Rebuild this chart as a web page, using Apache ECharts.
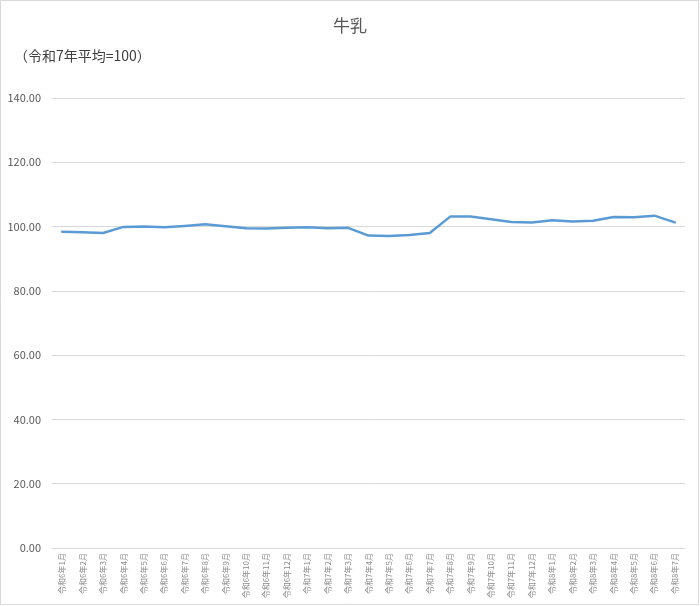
<!DOCTYPE html>
<html>
<head>
<meta charset="utf-8">
<script src="https://cdn.jsdelivr.net/npm/echarts@6/dist/echarts.min.js"></script>
<style>
html,body{margin:0;padding:0;background:#fff;}
#chart{width:700px;height:606px;}
</style>
</head>
<body>
<div id="chart"></div>
<script>
const categories = [
  '令和6年1月','令和6年2月','令和6年3月','令和6年4月','令和6年5月','令和6年6月',
  '令和6年7月','令和6年8月','令和6年9月','令和6年10月','令和6年11月','令和6年12月',
  '令和7年1月','令和7年2月','令和7年3月','令和7年4月','令和7年5月','令和7年6月',
  '令和7年7月','令和7年8月','令和7年9月','令和7年10月','令和7年11月','令和7年12月',
  '令和8年1月','令和8年2月','令和8年3月','令和8年4月','令和8年5月','令和8年6月','令和8年7月'
];
const milkIndex = [
  98.4, 98.2, 98.0, 99.9, 100.0, 99.8,
  100.2, 100.7, 100.1, 99.5, 99.4, 99.6,
  99.8, 99.5, 99.6, 97.2, 97.1, 97.4,
  98.0, 103.1, 103.1, 102.3, 101.4, 101.3,
  102.0, 101.6, 101.8, 103.0, 102.9, 103.4, 101.3
];
const titleText = '牛乳';
const noteText = '（令和7年平均=100）';

const FONT = '"Noto Sans CJK JP", "Noto Sans", sans-serif';
const chart = echarts.init(document.getElementById('chart'), null, {renderer: 'canvas'});
chart.setOption({
  animation: false,
  backgroundColor: '#ffffff',
  textStyle: {fontFamily: FONT},
  title: {
    text: titleText,
    left: 'center',
    top: 12,
    textStyle: {fontFamily: FONT, fontSize: 17, fontWeight: 'normal', color: '#595959'}
  },
  graphic: [
    {
      type: 'rect',
      shape: {x: 0.5, y: 0.5, width: 698, height: 604},
      style: {fill: 'none', stroke: '#d9d9d9', lineWidth: 1},
      silent: true
    },
    {
      type: 'text',
      left: 14,
      top: 49,
      style: {text: noteText, fontFamily: FONT, fontSize: 14, fill: '#404040'}
    }
  ],
  grid: {left: 52, right: 15, top: 98, bottom: 58, containLabel: false},
  xAxis: {
    type: 'category',
    data: categories,
    boundaryGap: true,
    axisLine: {show: true, lineStyle: {color: '#d9d9d9', width: 1}},
    axisTick: {show: false},
    axisLabel: {
      rotate: 90,
      interval: 0,
      margin: 5,
      fontSize: 8,
      color: '#8c8c8c',
      fontFamily: FONT
    }
  },
  yAxis: {
    type: 'value',
    min: 0,
    max: 140,
    interval: 20,
    axisLine: {show: false},
    axisTick: {show: false},
    splitLine: {lineStyle: {color: '#d9d9d9', width: 1}},
    axisLabel: {
      margin: 11,
      fontSize: 11,
      color: '#595959',
      fontFamily: FONT,
      formatter: v => v.toFixed(2)
    }
  },
  series: [{
    type: 'line',
    data: milkIndex,
    showSymbol: false,
    symbol: 'none',
    lineStyle: {color: '#5b9bd5', width: 2.5, cap: 'round', join: 'round'},
    itemStyle: {color: '#5b9bd5'}
  }]
});
</script>
</body>
</html>
